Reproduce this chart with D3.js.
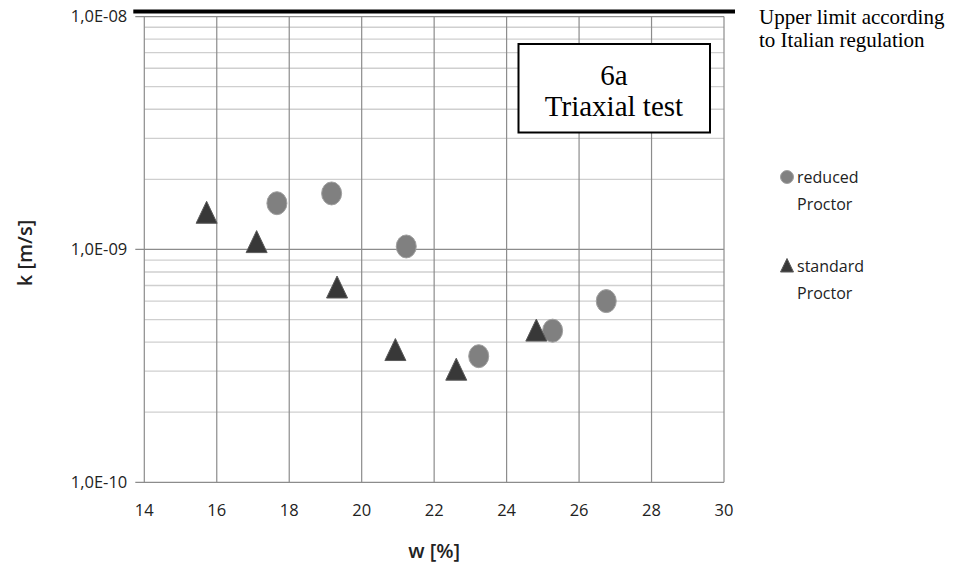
<!DOCTYPE html>
<html>
<head>
<meta charset="utf-8">
<script src="https://cdn.jsdelivr.net/npm/d3@7"></script>
<style>
  body { margin: 0; background: #fff; }
  svg { display: block; }
</style>
</head>
<body>
<div id="chart"></div>
<script>
// reduced Proctor (circles)
const reducedW = [17.66, 19.17, 21.23, 23.23, 25.27, 26.75];
const reducedK = [1.58e-9, 1.74e-9, 1.03e-9, 3.48e-10, 4.48e-10, 6.0e-10];
// standard Proctor (triangles)
const standardW = [15.72, 17.10, 19.32, 20.93, 22.61, 24.82];
const standardK = [1.43e-9, 1.07e-9, 6.83e-10, 3.68e-10, 3.03e-10, 4.46e-10];

const xTicks = [14, 16, 18, 20, 22, 24, 26, 28, 30];
const yTicks = [1e-10, 1e-9, 1e-8];
const yTickLabels = ["1,0E-10", "1,0E-09", "1,0E-08"];
const upperLimit = 1e-8;

const width = 960, height = 565;
const margin = { top: 16.6, right: 236, bottom: 83, left: 144.3 };

const svg = d3.select("#chart").append("svg")
  .attr("width", width).attr("height", height);

const x = d3.scaleLinear().domain([14, 30]).range([margin.left, width - margin.right]);
const y = d3.scaleLog().domain([1e-10, 1e-8]).range([height - margin.bottom + 0.3, margin.top]);

const grid = svg.append("g");
// minor horizontal lines
const minor = [];
[1e-10, 1e-9].forEach(dec => { for (let m = 2; m <= 9; m++) minor.push(dec * m); });
grid.selectAll(".minor").data(minor).enter().append("line")
  .attr("x1", x(14)).attr("x2", x(30))
  .attr("y1", d => y(d)).attr("y2", d => y(d))
  .attr("stroke", "#cfcfcf").attr("stroke-width", 1.3);
// major horizontal lines
grid.selectAll(".major").data(yTicks).enter().append("line")
  .attr("x1", x(14) - 9).attr("x2", x(30))
  .attr("y1", d => y(d)).attr("y2", d => y(d))
  .attr("stroke", "#8c8c8c").attr("stroke-width", 1.2);
// vertical lines
grid.selectAll(".v").data(xTicks).enter().append("line")
  .attr("x1", d => x(d)).attr("x2", d => x(d))
  .attr("y1", y(1e-8)).attr("y2", y(1e-10))
  .attr("stroke", "#8c8c8c").attr("stroke-width", 1.2);

// upper limit line
svg.append("line")
  .attr("x1", x(14) - 11).attr("x2", x(30) + 11)
  .attr("y1", y(upperLimit) - 5).attr("y2", y(upperLimit) - 5)
  .attr("stroke", "#000").attr("stroke-width", 4);

const labelFont = "'Open Sans', 'Noto Sans', sans-serif";
const serif = "'Liberation Serif', 'DejaVu Serif', serif";

// y tick labels
svg.selectAll(".ylab").data(yTicks).enter().append("text")
  .attr("x", x(14) - 17).attr("y", d => y(d))
  .attr("dy", "0.35em").attr("text-anchor", "end")
  .attr("font-family", labelFont).attr("font-size", 16.5).attr("fill", "#222")
  .text((d, i) => yTickLabels[i]);

// x tick labels
svg.selectAll(".xlab").data(xTicks).enter().append("text")
  .attr("x", d => x(d)).attr("y", y(1e-10) + 34)
  .attr("text-anchor", "middle")
  .attr("font-family", labelFont).attr("font-size", 16.5).attr("fill", "#222")
  .text(d => d);

// axis titles
svg.append("text")
  .attr("x", x(22)).attr("y", 558)
  .attr("text-anchor", "middle")
  .attr("font-family", labelFont).attr("font-size", 20).attr("font-weight", 600)
  .attr("fill", "#222").text("w [%]");
svg.append("text")
  .attr("transform", "translate(32,253) rotate(-90)")
  .attr("text-anchor", "middle")
  .attr("font-family", labelFont).attr("font-size", 20).attr("font-weight", 600)
  .attr("fill", "#222").text("k [m/s]");

// data points
const reduced = reducedW.map((w, i) => ({ w, k: reducedK[i] }));
const standard = standardW.map((w, i) => ({ w, k: standardK[i] }));

const tri = "M0,-12L10.5,10L-10.5,10Z";

svg.append("g").selectAll("ellipse").data(reduced).enter().append("ellipse")
  .attr("cx", d => x(d.w)).attr("cy", d => y(d.k))
  .attr("rx", 10).attr("ry", 11.5)
  .attr("fill", "#808080").attr("stroke", "#a0a0a0").attr("stroke-width", 1);

svg.append("g").selectAll("path").data(standard).enter().append("path")
  .attr("transform", d => `translate(${x(d.w)},${y(d.k)})`)
  .attr("d", tri)
  .attr("fill", "#383838").attr("stroke", "#5a5a5a").attr("stroke-width", 1);

// title box
svg.append("rect")
  .attr("x", 518.5).attr("y", 44).attr("width", 191.5).attr("height", 88.5)
  .attr("fill", "#fff").attr("stroke", "#000").attr("stroke-width", 2);
svg.append("text")
  .attr("x", 614).attr("y", 85).attr("text-anchor", "middle")
  .attr("font-family", serif).attr("font-size", 29)
  .text("6a");
svg.append("text")
  .attr("x", 614).attr("y", 116).attr("text-anchor", "middle")
  .attr("font-family", serif).attr("font-size", 29)
  .text("Triaxial test");

// upper limit annotation
svg.append("text").attr("x", 759).attr("y", 24)
  .attr("font-family", serif).attr("font-size", 21).text("Upper limit according");
svg.append("text").attr("x", 759).attr("y", 47)
  .attr("font-family", serif).attr("font-size", 21).text("to Italian regulation");

// legend
const legend = svg.append("g");
legend.append("circle").attr("cx", 787).attr("cy", 177).attr("r", 6.5)
  .attr("fill", "#808080").attr("stroke", "#a0a0a0");
legend.append("path").attr("transform", "translate(787,266)")
  .attr("d", "M0,-7.5L6.5,6L-6.5,6Z").attr("fill", "#383838").attr("stroke", "#5a5a5a");
[["reduced", 177], ["Proctor", 204], ["standard", 266], ["Proctor", 293]].forEach(([t, yy]) => {
  legend.append("text").attr("x", 797).attr("y", yy).attr("dy", "0.35em")
    .attr("font-family", labelFont).attr("font-size", 16).attr("fill", "#222").text(t);
});
</script>
</body>
</html>
